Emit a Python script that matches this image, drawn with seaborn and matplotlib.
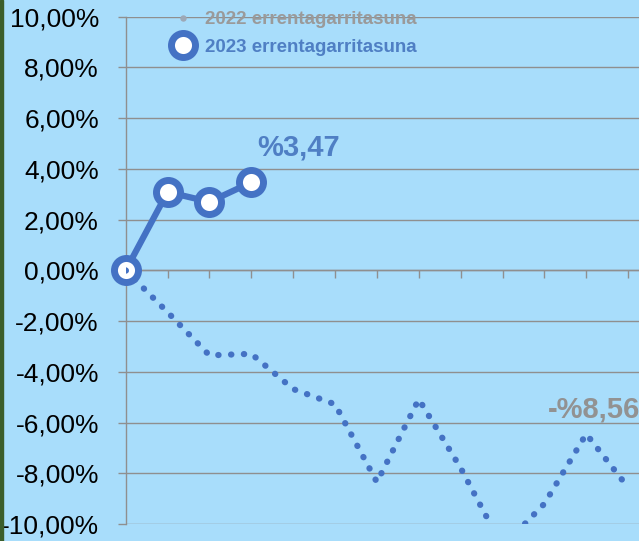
import pandas as pd
import matplotlib.pyplot as plt
import seaborn as sns
from matplotlib.lines import Line2D
from matplotlib.patches import Rectangle
from matplotlib.ticker import FuncFormatter, FixedLocator

# datuak
hilabeteak_2022 = [0, 1, 2, 3, 4, 5, 6, 7, 8, 9, 10, 11, 12]
balioak_2022 = [0, -1.65, -3.35, -3.29, -4.68, -5.28, -8.35, -5.08, -7.79, -10.9, -9.2, -6.45, -8.56]
hilabeteak_2023 = [0, 1, 2, 3]
balioak_2023 = [0, 3.09, 2.70, 3.47]
etiketak = ["2022 errentagarritasuna", "2023 errentagarritasuna"]
azken_2022 = "-%8,56"
azken_2023 = "%3,47"

urdina = "#4472C4"
atzealdea = "#A8DDFB"
grisa = "#8F8F8F"

sns.set_style("white", {"axes.facecolor": atzealdea, "figure.facecolor": atzealdea})
plt.rcParams["font.family"] = ["Liberation Sans", "DejaVu Sans"]

fig = plt.figure(figsize=(6.39, 5.41), dpi=100)
ax = fig.add_axes([125.7 / 639, 0.0314, 1 - 125.7 / 639, 0.9377])

df22 = pd.DataFrame({"x": hilabeteak_2022, "y": balioak_2022})
df23 = pd.DataFrame({"x": hilabeteak_2023, "y": balioak_2023})

sns.lineplot(data=df23, x="x", y="y", ax=ax, color=urdina, lw=4.5,
             marker="o", ms=17.3, mew=5, mec=urdina, mfc="white",
             clip_on=False, zorder=4, legend=False)
sns.lineplot(data=df22, x="x", y="y", ax=ax, color=urdina, lw=4.5,
             linestyle=(0, (0.05, 2.0)), dash_capstyle="round",
             zorder=5, legend=False)

ax.set_xlim(0, 12.26)
ax.set_ylim(-10, 10)
ax.set_xlabel("")
ax.set_ylabel("")

ax.yaxis.set_major_locator(FixedLocator(range(-10, 11, 2)))
ax.yaxis.set_major_formatter(FuncFormatter(lambda v, p: f"{v:.2f}".replace(".", ",") + "%"))
ax.grid(axis="y", color=grisa, lw=1.0)
ax.set_axisbelow(True)
ax.tick_params(axis="y", length=5.8, width=1.0, color=grisa, pad=13.5,
               labelsize=19, labelcolor="black", left=True)

ax.set_xticks(range(1, 13))
ax.set_xticklabels([])
ax.tick_params(axis="x", length=5.8, width=1.0, color=grisa, direction="out", bottom=True)

for s in ["top", "right"]:
    ax.spines[s].set_visible(False)
ax.spines["left"].set_color(grisa)
ax.spines["left"].set_linewidth(1.0)
ax.spines["bottom"].set_position(("data", 0))
ax.spines["bottom"].set_color(grisa)
ax.spines["bottom"].set_linewidth(1.0)

ax.text(3.14, 4.84, azken_2023, color="#4F7FC4", fontsize=21, fontweight="bold",
        va="center", ha="left")
ax.text(10.08, -5.47, azken_2022, color="#929292", fontsize=21, fontweight="bold",
        va="center", ha="left", clip_on=False)

eskuak = [
    Line2D([], [], linestyle="none", marker="o", ms=3.6, color="#9DA8B6"),
    Line2D([], [], linestyle="none", marker="o", ms=17.3, mew=5, mec=urdina, mfc="white"),
]
leg = ax.legend(eskuak, etiketak, loc="upper left",
                bbox_to_anchor=(169.9 / 639, 1 - 11 / 541), bbox_transform=fig.transFigure,
                frameon=False, borderpad=0, borderaxespad=0, handlelength=1.4,
                handletextpad=0.45, labelspacing=0.55,
                prop={"size": 13.5, "weight": "bold"},
                labelcolor=["#9A9A9A", "#4F7FC4"])

fig.patches.append(Rectangle((0, 0), 2.5 / 639, 1, transform=fig.transFigure,
                             color="#3B5E2B", zorder=10))

plt.savefig("out.png", dpi=100)
plt.close()
